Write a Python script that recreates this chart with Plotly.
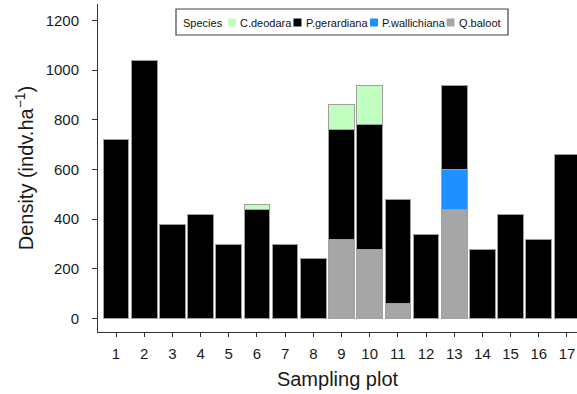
import plotly.graph_objects as go

plots = [str(i) for i in range(1, 18)]
q_baloot      = [0, 0, 0, 0, 0, 0, 0, 0, 320, 280, 60, 0, 440, 0, 0, 0, 0]
p_wallichiana = [0, 0, 0, 0, 0, 0, 0, 0, 0, 0, 0, 0, 160, 0, 0, 0, 0]
p_gerardiana  = [720, 1040, 380, 420, 300, 440, 300, 240, 440, 500, 420, 340, 340, 280, 420, 320, 660]
c_deodara     = [0, 0, 0, 0, 0, 20, 0, 0, 100, 160, 0, 0, 0, 0, 0, 0, 0]

y_ticks = [0, 200, 400, 600, 800, 1000, 1200]

species = ["C.deodara", "P.gerardiana", "P.wallichiana", "Q.baloot"]
colors = {"C.deodara": "#c1ffc1", "P.gerardiana": "#000000",
          "P.wallichiana": "#1e90ff", "Q.baloot": "#a6a6a6"}
values = {"C.deodara": c_deodara, "P.gerardiana": p_gerardiana,
          "P.wallichiana": p_wallichiana, "Q.baloot": q_baloot}
stack_order = ["Q.baloot", "P.wallichiana", "P.gerardiana", "C.deodara"]

W, H = 577, 394
L, R, T, B = 98, 0, 4, 62
pw, ph = W - L - R, H - T - B

def px(x):
    return (x - L) / pw

def py(y):
    return (H - B - y) / ph

xs = list(range(1, 18))
fig = go.Figure()
for name in stack_order:
    fig.add_trace(go.Bar(
        x=xs, y=values[name], name=name, showlegend=False,
        marker=dict(color=colors[name], line=dict(color="#a0a0a0", width=1)),
    ))

# manual compact legend (box, title, keys)
shapes = [dict(type="rect", xref="paper", yref="paper",
               x0=px(176), x1=px(508), y0=py(9), y1=py(35),
               line=dict(color="#444444", width=1.2), fillcolor="white", layer="above")]
annotations = [dict(text="Species", x=px(181), y=py(22.5), xref="paper", yref="paper",
                    xanchor="left", yanchor="middle", showarrow=False,
                    font=dict(size=11, color="#111111"))]
key_x = [228, 293.5, 370, 446.5]
for name, kx in zip(species, key_x):
    shapes.append(dict(type="rect", xref="paper", yref="paper",
                       x0=px(kx), x1=px(kx + 8), y0=py(18.5), y1=py(26.5),
                       line=dict(width=0), fillcolor=colors[name], layer="above"))
    annotations.append(dict(text=name, x=px(kx + 10), y=py(22.5), xref="paper", yref="paper",
                            xanchor="left", yanchor="middle", showarrow=False,
                            font=dict(size=11, color="#111111")))

fig.update_layout(
    barmode="stack", bargap=0.09,
    width=W, height=H,
    margin=dict(l=L, r=R, t=T, b=B),
    paper_bgcolor="white", plot_bgcolor="white",
    font=dict(family="Liberation Sans, Arial, sans-serif", color="#1a1a1a"),
    showlegend=False,
    shapes=shapes, annotations=annotations,
    xaxis=dict(
        range=[0.36, 17.355], tickmode="array", tickvals=xs, ticktext=plots,
        showline=True, linecolor="#333333", linewidth=1,
        ticks="outside", ticklen=4, tickcolor="#333333",
        tickfont=dict(size=15), showgrid=False, zeroline=False,
        ticklabelstandoff=4,
        title=dict(text="Sampling plot", font=dict(size=20), standoff=10),
    ),
    yaxis=dict(
        range=[-54, 1266], tickvals=y_ticks,
        showline=True, linecolor="#333333", linewidth=1,
        ticks="outside", ticklen=5, tickcolor="#333333",
        tickfont=dict(size=15), showgrid=False, zeroline=False,
        ticklabelstandoff=10,
        title=dict(text="Density (indv.ha<sup>−1</sup>)", font=dict(size=20), standoff=6),
    ),
)

fig.write_html("out.html")
